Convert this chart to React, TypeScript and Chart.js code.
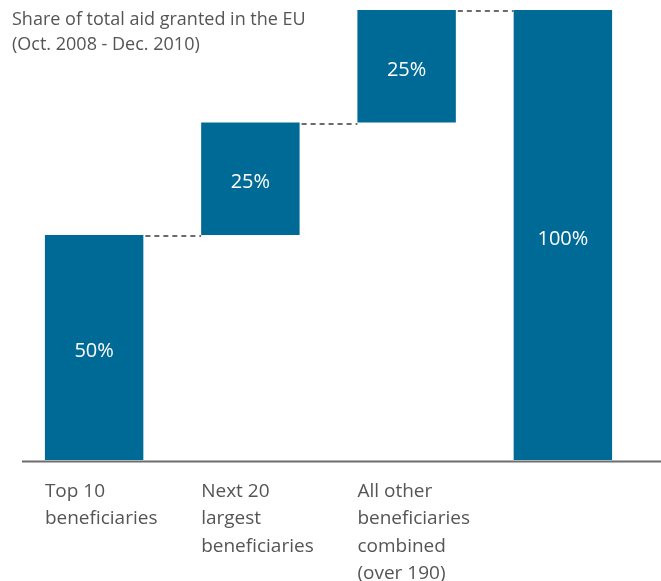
import React, { useEffect, useRef } from "react";
import { Chart, registerables } from "chart.js";

Chart.register(...registerables);

const categories: string[][] = [
  ["Top 10", "beneficiaries"],
  ["Next 20", "largest", "beneficiaries"],
  ["All other", "beneficiaries", "combined", "(over 190)"],
  [""],
];
const barStarts: number[] = [0, 50, 75, 0];
const barEnds: number[] = [50, 75, 100, 100];
const valueLabels: string[] = ["50%", "25%", "25%", "100%"];
const titleLines: string[] = ["Share of total aid granted in the EU", "(Oct. 2008 - Dec. 2010)"];

const FONT = "'Open Sans', 'Noto Sans', sans-serif";
const BAR_COLOR = "#006a96";
const TEXT_COLOR = "#555555";

const overlayPlugin = {
  id: "overlay",
  afterDatasetsDraw(chart: any) {
    const ctx = chart.ctx as CanvasRenderingContext2D;
    const y = chart.scales.y;
    const meta = chart.getDatasetMeta(0);
    ctx.save();

    // connectors
    ctx.strokeStyle = "#6b6b6b";
    ctx.lineWidth = 2;
    ctx.setLineDash([5, 4]);
    for (let i = 0; i < meta.data.length - 1; i++) {
      const a = meta.data[i] as any;
      const b = meta.data[i + 1] as any;
      const yy = Math.round(y.getPixelForValue(barEnds[i])) + 1;
      ctx.beginPath();
      ctx.moveTo(a.x + a.width / 2 + 2, yy);
      ctx.lineTo(b.x - b.width / 2, yy);
      ctx.stroke();
    }
    ctx.setLineDash([]);

    // axis line
    const y0 = y.getPixelForValue(0) + 1.5;
    ctx.strokeStyle = "#6d6d6d";
    ctx.lineWidth = 2;
    ctx.beginPath();
    ctx.moveTo(22, y0);
    ctx.lineTo(chart.width, y0);
    ctx.stroke();

    // value labels
    ctx.fillStyle = "#ffffff";
    ctx.font = `20px ${FONT}`;
    ctx.textAlign = "center";
    ctx.textBaseline = "middle";
    meta.data.forEach((el: any, i: number) => {
      const mid = (barStarts[i] + barEnds[i]) / 2;
      ctx.fillText(valueLabels[i], el.x, y.getPixelForValue(mid) + 4);
    });

    // category labels
    ctx.fillStyle = TEXT_COLOR;
    ctx.font = `19px ${FONT}`;
    ctx.textAlign = "left";
    meta.data.forEach((el: any, i: number) => {
      const left = el.x - el.width / 2;
      categories[i].forEach((line, j) => {
        ctx.fillText(line, left, y0 + 30 + j * 27.5);
      });
    });

    // title
    ctx.font = `18px ${FONT}`;
    titleLines.forEach((line, j) => {
      ctx.fillText(line, 12, 20 + j * 25);
    });
    ctx.restore();
  },
};

export default function App() {
  const ref = useRef<HTMLCanvasElement | null>(null);
  useEffect(() => {
    if (!ref.current) return;
    const chart = new Chart(ref.current, {
      type: "bar",
      data: {
        labels: categories.map((c) => c.join(" ")),
        datasets: [
          {
            data: barStarts.map((s, i) => [s, barEnds[i]]) as any,
            backgroundColor: BAR_COLOR,
            borderWidth: 0,
            barPercentage: 0.63,
            categoryPercentage: 1,
          },
        ],
      },
      options: {
        animation: false,
        responsive: false,
        maintainAspectRatio: false,
        layout: { padding: { left: 16, right: 20, top: 10, bottom: 121 } },
        plugins: { legend: { display: false }, tooltip: { enabled: false }, title: { display: false } },
        scales: {
          x: { display: false },
          y: { display: false, min: 0, max: 100 },
        },
      },
      plugins: [overlayPlugin],
    });
    return () => chart.destroy();
  }, []);
  return (
    <div style={{ position: "fixed", left: 0, top: 0, width: 661, height: 581, background: "#fff" }}>
      <canvas ref={ref} width={661} height={581} style={{ width: 661, height: 581 }} />
    </div>
  );
}
